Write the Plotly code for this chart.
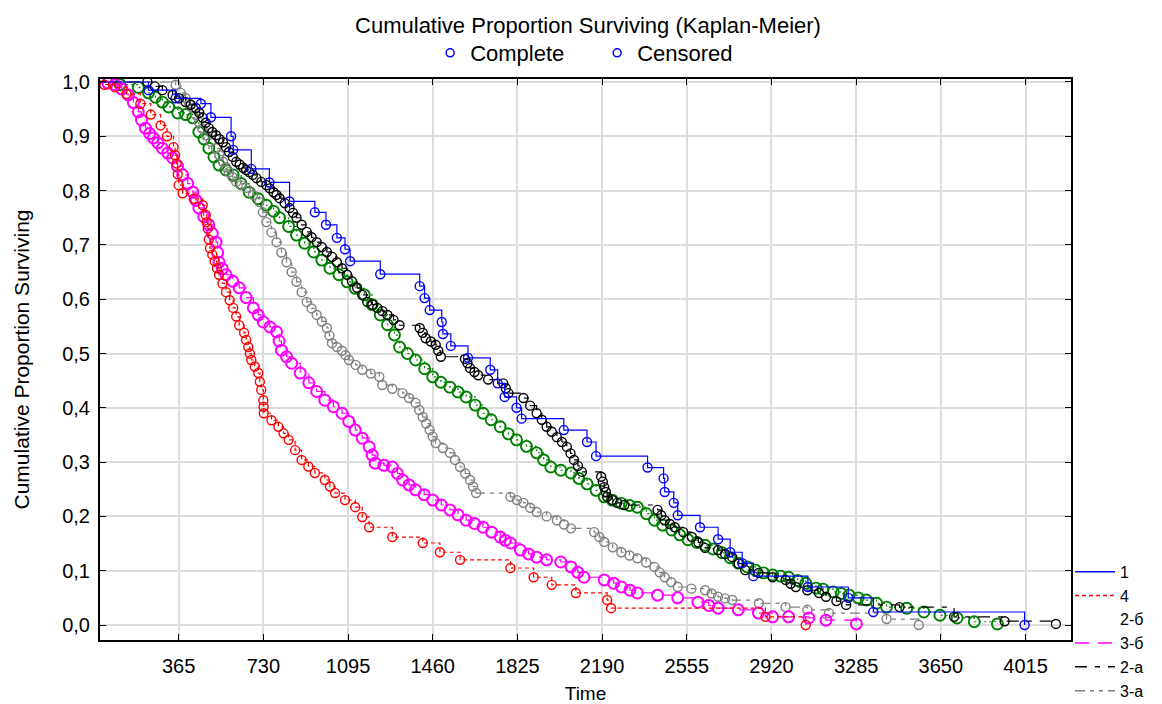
import plotly.graph_objects as go

# ---------------- data ----------------
x_ticks = [365, 730, 1095, 1460, 1825, 2190, 2555, 2920, 3285, 3650, 4015]
y_ticks = [0.0, 0.1, 0.2, 0.3, 0.4, 0.5, 0.6, 0.7, 0.8, 0.9, 1.0]

names = ["1", "4", "2-б", "3-б", "2-а", "3-а"]

t_1 = [0, 235, 352, 461, 504, 591, 600, 678, 756, 843, 952, 1000, 1047, 1082, 1104, 1234,
       1404, 1425, 1447, 1499, 1504, 1538, 1612, 1708, 1740, 1770, 1821, 1843, 2025, 2125,
       2164, 2386, 2455, 2460, 2499, 2516, 2612, 2690, 2742, 2794, 2842, 3077, 3251, 3359, 4011]
s_1 = [1.0, 0.985, 0.97, 0.96, 0.935, 0.9, 0.875, 0.84, 0.815, 0.78, 0.76, 0.737, 0.713, 0.692,
       0.67, 0.646, 0.624, 0.602, 0.58, 0.558, 0.536, 0.514, 0.492, 0.47, 0.445, 0.42, 0.40,
       0.38, 0.359, 0.337, 0.311, 0.29, 0.27, 0.245, 0.225, 0.202, 0.18, 0.158, 0.134, 0.114,
       0.09, 0.07, 0.05, 0.024, 0.0]

t_4 = [0, 45, 91, 140, 200, 245, 287, 315, 343, 350, 356, 361, 365, 382, 430, 469, 482, 486,
       490, 495, 500, 510, 520, 530, 539, 554, 569, 585, 600, 613, 626, 647, 656, 665, 672, 678,
       693, 708, 715, 721, 730, 731, 732, 765, 795, 817, 839, 867, 895, 924, 952, 995, 1017,
       1039, 1082, 1126, 1156, 1186, 1286, 1417, 1491, 1578, 1795, 1895, 1973, 2077, 2212, 2229,
       2894, 3068]
s_4 = [1.0, 0.995, 0.99, 0.978, 0.96, 0.94, 0.92, 0.9, 0.88, 0.865, 0.85, 0.83, 0.81, 0.795,
       0.785, 0.773, 0.755, 0.742, 0.73, 0.71, 0.694, 0.682, 0.67, 0.657, 0.645, 0.629, 0.613,
       0.598, 0.584, 0.568, 0.552, 0.538, 0.525, 0.512, 0.5, 0.488, 0.476, 0.464, 0.448, 0.433,
       0.414, 0.402, 0.39, 0.377, 0.365, 0.353, 0.341, 0.322, 0.304, 0.292, 0.28, 0.267, 0.255,
       0.243, 0.23, 0.217, 0.199, 0.18, 0.162, 0.151, 0.134, 0.12, 0.105, 0.088, 0.074, 0.059,
       0.046, 0.031, 0.015, 0.0]

t_2b = [0, 113, 191, 235, 265, 295, 322, 361, 395, 426, 452, 474, 495, 517, 539, 569, 600, 634,
        669, 708, 743, 774, 800, 839, 873, 908, 947, 982, 1017, 1056, 1091, 1126, 1165, 1199,
        1234, 1265, 1295, 1317, 1351, 1386, 1425, 1460, 1495, 1534, 1569, 1604, 1643, 1677, 1712,
        1751, 1786, 1821, 1864, 1908, 1938, 1969, 2012, 2056, 2090, 2125, 2164, 2199, 2234, 2273,
        2308, 2342, 2381, 2416, 2451, 2490, 2525, 2560, 2599, 2634, 2668, 2707, 2742, 2777, 2816,
        2851, 2886, 2925, 2959, 2994, 3033, 3068, 3112, 3142, 3186, 3221, 3255, 3294, 3329, 3373,
        3416, 3503, 3577, 3646, 3720, 3794, 3894]
s_2b = [1.0, 0.995, 0.99, 0.98, 0.972, 0.963, 0.954, 0.943, 0.94, 0.934, 0.908, 0.895, 0.878,
        0.862, 0.847, 0.838, 0.829, 0.813, 0.797, 0.785, 0.773, 0.762, 0.75, 0.734, 0.718, 0.703,
        0.687, 0.672, 0.657, 0.645, 0.632, 0.62, 0.608, 0.59, 0.571, 0.553, 0.534, 0.512, 0.5,
        0.488, 0.472, 0.457, 0.447, 0.438, 0.429, 0.42, 0.405, 0.39, 0.378, 0.365, 0.352, 0.341,
        0.329, 0.317, 0.304, 0.291, 0.285, 0.28, 0.27, 0.26, 0.248, 0.236, 0.23, 0.224, 0.22,
        0.217, 0.205, 0.193, 0.184, 0.175, 0.166, 0.157, 0.152, 0.147, 0.14, 0.133, 0.124, 0.114,
        0.107, 0.101, 0.096, 0.092, 0.09, 0.088, 0.082, 0.077, 0.068, 0.066, 0.061, 0.058, 0.055,
        0.05, 0.046, 0.04, 0.033, 0.031, 0.024, 0.018, 0.013, 0.006, 0.002]

t_3b = [0, 60, 91, 120, 148, 170, 191, 205, 222, 240, 256, 275, 295, 318, 339, 360, 382, 404,
        426, 440, 452, 473, 495, 510, 526, 533, 539, 553, 569, 598, 626, 656, 687, 708, 730, 758,
        787, 798, 808, 830, 852, 889, 926, 960, 995, 1032, 1069, 1098, 1126, 1156, 1186, 1199,
        1212, 1250, 1286, 1308, 1330, 1358, 1386, 1423, 1460, 1497, 1534, 1569, 1604, 1640, 1677,
        1714, 1751, 1773, 1795, 1838, 1873, 1908, 1951, 2012, 2056, 2085, 2112, 2199, 2240, 2273,
        2310, 2342, 2429, 2516, 2603, 2650, 2690, 2777, 2864, 2925, 2994, 3081, 3155, 3286]
s_3b = [1.0, 0.998, 0.995, 0.987, 0.976, 0.962, 0.945, 0.93, 0.915, 0.905, 0.897, 0.888, 0.878,
        0.869, 0.86, 0.845, 0.829, 0.813, 0.797, 0.782, 0.768, 0.752, 0.737, 0.721, 0.705, 0.686,
        0.668, 0.656, 0.645, 0.633, 0.621, 0.603, 0.584, 0.571, 0.558, 0.549, 0.54, 0.523, 0.506,
        0.494, 0.482, 0.464, 0.446, 0.43, 0.414, 0.402, 0.39, 0.375, 0.359, 0.344, 0.328, 0.313,
        0.298, 0.294, 0.291, 0.279, 0.267, 0.258, 0.249, 0.24, 0.23, 0.221, 0.212, 0.203, 0.193,
        0.187, 0.18, 0.171, 0.162, 0.156, 0.151, 0.138, 0.131, 0.125, 0.12, 0.116, 0.107, 0.097,
        0.088, 0.083, 0.077, 0.07, 0.064, 0.059, 0.055, 0.05, 0.042, 0.036, 0.031, 0.028, 0.022,
        0.015, 0.015, 0.013, 0.009, 0.002]

t_2a = [0, 230, 262, 295, 339, 367, 395, 417, 439, 454, 469, 482, 495, 510, 526, 541, 556, 569,
        582, 598, 613, 628, 643, 656, 669, 685, 700, 721, 743, 758, 774, 787, 800, 822, 843, 858,
        873, 895, 917, 938, 960, 982, 1004, 1026, 1047, 1069, 1091, 1112, 1134, 1156, 1178, 1200,
        1221, 1243, 1265, 1291, 1317, 1404, 1417, 1430, 1452, 1473, 1484, 1495, 1599, 1610, 1621,
        1640, 1656, 1699, 1764, 1775, 1786, 1851, 1880, 1908, 1930, 1951, 1973, 1995, 2017, 2038,
        2054, 2069, 2086, 2103, 2186, 2193, 2199, 2206, 2212, 2234, 2255, 2286, 2429, 2445, 2460,
        2482, 2503, 2540, 2577, 2605, 2634, 2690, 2720, 2751, 2779, 2807, 2864, 2925, 2981, 3003,
        3025, 3075, 3125, 3155, 3200, 3242, 3472, 3707, 3925, 4146]
s_2a = [1.0, 1.0, 0.992, 0.985, 0.976, 0.97, 0.963, 0.958, 0.952, 0.943, 0.934, 0.925, 0.915,
        0.908, 0.902, 0.895, 0.889, 0.88, 0.871, 0.862, 0.853, 0.848, 0.842, 0.838, 0.834, 0.829,
        0.823, 0.816, 0.81, 0.804, 0.797, 0.792, 0.786, 0.777, 0.768, 0.759, 0.75, 0.737, 0.724,
        0.714, 0.705, 0.696, 0.687, 0.678, 0.668, 0.657, 0.645, 0.633, 0.621, 0.608, 0.595, 0.59,
        0.584, 0.578, 0.571, 0.562, 0.552, 0.547, 0.538, 0.528, 0.522, 0.516, 0.505, 0.494, 0.49,
        0.482, 0.473, 0.466, 0.46, 0.452, 0.445, 0.436, 0.427, 0.418, 0.404, 0.39, 0.378, 0.365,
        0.356, 0.346, 0.337, 0.328, 0.316, 0.304, 0.293, 0.282, 0.273, 0.264, 0.254, 0.245, 0.236,
        0.23, 0.225, 0.221, 0.212, 0.202, 0.193, 0.186, 0.18, 0.171, 0.162, 0.152, 0.142, 0.138,
        0.131, 0.125, 0.113, 0.101, 0.096, 0.088, 0.083, 0.076, 0.07, 0.064, 0.059, 0.052, 0.044,
        0.037, 0.033, 0.015, 0.007, 0.002]

t_3a = [0, 352, 374, 395, 410, 426, 439, 452, 467, 482, 504, 526, 541, 556, 569, 582, 597, 613,
        634, 656, 685, 713, 728, 743, 765, 787, 808, 830, 852, 873, 895, 917, 938, 960, 982, 1004,
        1015, 1026, 1047, 1069, 1084, 1099, 1128, 1156, 1193, 1230, 1243, 1286, 1330, 1358, 1386,
        1402, 1417, 1432, 1447, 1460, 1473, 1504, 1534, 1556, 1578, 1600, 1621, 1634, 1647, 1795,
        1823, 1851, 1880, 1908, 1951, 1995, 2026, 2056, 2156, 2178, 2199, 2236, 2273, 2308, 2342,
        2380, 2416, 2438, 2460, 2488, 2516, 2575, 2634, 2662, 2690, 2720, 2751, 2866, 2981, 3075,
        3168, 3416, 3555]
s_3a = [1.0, 0.995, 0.98, 0.97, 0.961, 0.952, 0.939, 0.926, 0.914, 0.902, 0.89, 0.878, 0.865,
        0.853, 0.843, 0.834, 0.825, 0.816, 0.81, 0.805, 0.792, 0.779, 0.76, 0.742, 0.723, 0.705,
        0.686, 0.668, 0.65, 0.632, 0.613, 0.595, 0.583, 0.571, 0.559, 0.547, 0.533, 0.519, 0.512,
        0.505, 0.497, 0.488, 0.479, 0.47, 0.463, 0.457, 0.442, 0.435, 0.427, 0.418, 0.409, 0.396,
        0.383, 0.371, 0.359, 0.347, 0.335, 0.326, 0.317, 0.304, 0.291, 0.279, 0.267, 0.255, 0.243,
        0.236, 0.23, 0.225, 0.216, 0.208, 0.2, 0.193, 0.185, 0.178, 0.171, 0.162, 0.153, 0.143,
        0.134, 0.128, 0.123, 0.115, 0.107, 0.097, 0.088, 0.079, 0.07, 0.067, 0.064, 0.058, 0.052,
        0.049, 0.046, 0.04, 0.033, 0.028, 0.022, 0.011, 0.0]

series_t = [t_1, t_4, t_2b, t_3b, t_2a, t_3a]
series_s = [s_1, s_4, s_2b, s_3b, s_2a, s_3a]

# ---------------- styles ----------------
colors = ["#0000FF", "#FF0000", "#008000", "#FF00FF", "#000000", "#808080"]
dashes = ["solid", "4px,3px", "2px,3px", "14px,9px", "12px,8px,5px,8px", "10px,5px,4px,5px,4px,5px"]
legend_colors = ["#0000FF", "#FF0000", "rgba(0,0,0,0)", "#FF00FF", "#000000", "#808080"]
marker_sizes = [9, 9, 11, 11, 9, 9]
marker_lw = [1.4, 1.4, 1.9, 2.0, 1.4, 1.4]

FONT = "Liberation Sans, Arial, sans-serif"

fig = go.Figure()

draw_order = [2, 5, 4, 3, 1, 0]
for i in draw_order:
    fig.add_trace(go.Scatter(
        x=series_t[i], y=series_s[i], mode="lines+markers", line_shape="hv",
        line=dict(color=colors[i], width=1.2, dash=dashes[i]),
        marker=dict(symbol="circle-open", size=marker_sizes[i], color=colors[i],
                    line=dict(width=marker_lw[i], color=colors[i])),
        showlegend=False, hoverinfo="skip",
    ))

# legend-only entries (lines)
for i, nm in enumerate(names):
    fig.add_trace(go.Scatter(
        x=[None], y=[None], mode="lines", name=nm,
        line=dict(color=legend_colors[i], width=1.5, dash=dashes[i]),
        legend="legend",
    ))

# top legend (Complete / Censored)
for nm in ["Complete", "Censored"]:
    fig.add_trace(go.Scatter(
        x=[None], y=[None], mode="markers", name=nm,
        marker=dict(symbol="circle-open", size=8, color="#0000FF", line=dict(width=1.5)),
        legend="legend2",
    ))

# page body has an 8px margin -> figure is 1154x696, margins shifted by 8px
fig.update_layout(
    width=1154, height=696, autosize=False,
    paper_bgcolor="white", plot_bgcolor="white",
    margin=dict(l=92, r=91, t=71, b=64, autoexpand=False),
    separators=",.",
    font=dict(family=FONT, size=18, color="#000000"),
    title=dict(text="Cumulative Proportion Surviving (Kaplan-Meier)", x=0.5026, xanchor="center",
               xref="container", y=0.9756, yref="container", yanchor="middle",
               font=dict(family=FONT, size=22, color="#000000")),
    legend=dict(x=0.999, xanchor="left", y=0.152, yanchor="top", bgcolor="rgba(0,0,0,0)",
                font=dict(family=FONT, size=16, color="#000000"), tracegroupgap=0,
                itemwidth=40),
    legend2=dict(orientation="h", x=0.512, xanchor="center", y=1.0463, yanchor="middle",
                 bgcolor="rgba(0,0,0,0)", entrywidth=122, entrywidthmode="pixels",
                 font=dict(family=FONT, size=22, color="#000000")),
    xaxis=dict(range=[26, 4211], tickvals=x_ticks, ticktext=[str(v) for v in x_ticks],
               showgrid=True, gridcolor="#DCDCDC", gridwidth=2, zeroline=False,
               showline=True, linecolor="#000000", linewidth=2, mirror="ticks",
               ticks="inside", ticklen=6, tickcolor="#000000", tickwidth=1,
               ticklabelstandoff=7,
               tickfont=dict(family=FONT, size=20, color="#000000"),
               title=dict(text="Time", font=dict(family=FONT, size=19, color="#000000"), standoff=13)),
    yaxis=dict(range=[-0.0276, 1.0055], tickvals=y_ticks, tickformat=".1f",
               showgrid=True, gridcolor="#DCDCDC", gridwidth=2, zeroline=False,
               showline=True, linecolor="#000000", linewidth=2, mirror="ticks",
               ticks="inside", ticklen=6, tickcolor="#000000", tickwidth=1,
               ticklabelstandoff=4,
               tickfont=dict(family=FONT, size=20, color="#000000"),
               title=dict(text="Cumulative Proportion Surviving",
                          font=dict(family=FONT, size=21, color="#000000"), standoff=27)),
)

fig.write_html("out.html")
